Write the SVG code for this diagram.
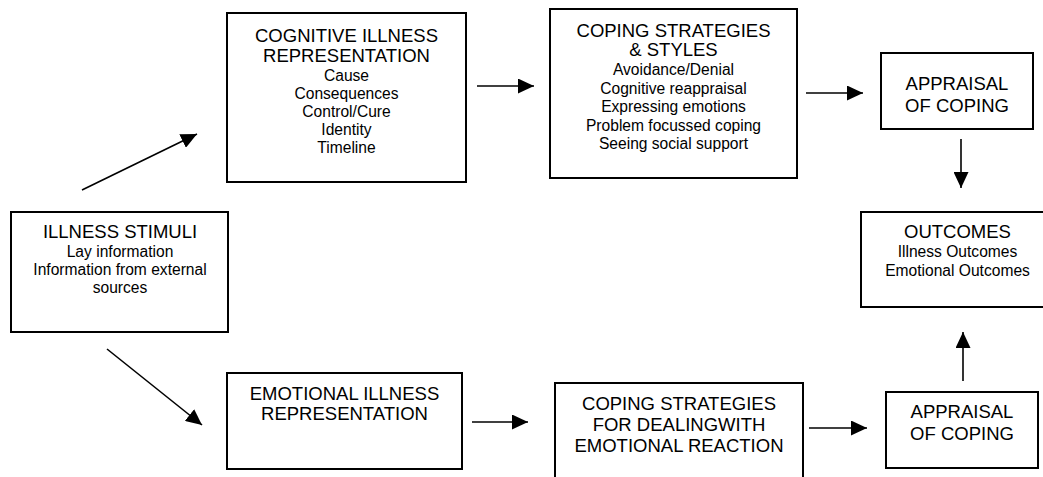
<svg xmlns="http://www.w3.org/2000/svg" width="1043" height="477" viewBox="0 0 1043 477">
<style>
.box{fill:#fff;stroke:#000;stroke-width:2}
.t{font-family:"Liberation Sans",Arial,sans-serif;font-size:18.5px;fill:#000;text-anchor:middle}
.s{font-family:"Liberation Sans",Arial,sans-serif;font-size:15.6px;fill:#000;text-anchor:middle}
.c{stroke:#000;stroke-width:1.6;fill:none;marker-end:url(#ah)}
</style>
<defs>
<marker id="ah" markerUnits="userSpaceOnUse" markerWidth="16" markerHeight="15" refX="16" refY="7.5" orient="auto">
<path d="M0,0 L16,7.5 L0,15 z" fill="#000"/>
</marker>
</defs>
<rect width="1043" height="477" fill="#fff"/>
<g id="connectors">
<line class="c" x1="82" y1="190" x2="197" y2="134"/>
<line class="c" x1="477" y1="86" x2="534" y2="86"/>
<line class="c" x1="806" y1="93" x2="863" y2="93"/>
<line class="c" x1="961" y1="139" x2="961" y2="188"/>
<line class="c" x1="107" y1="349" x2="202" y2="425"/>
<line class="c" x1="472" y1="422" x2="528" y2="422"/>
<line class="c" x1="809" y1="428" x2="867" y2="428"/>
<line class="c" x1="963" y1="381" x2="963" y2="332"/>
</g>
<g id="illness-stimuli">
<rect class="box" x="11" y="212" width="217" height="120"/>
<text class="t" x="120" y="238">ILLNESS STIMULI</text>
<text class="s" x="120" y="257">Lay information</text>
<text class="s" x="120" y="275">Information from external</text>
<text class="s" x="120" y="293">sources</text>
</g>
<g id="cognitive">
<rect class="box" x="227" y="13" width="239" height="169"/>
<text class="t" x="346.5" y="41.5">COGNITIVE ILLNESS</text>
<text class="t" x="346.5" y="61.5">REPRESENTATION</text>
<text class="s" x="346.5" y="80.5">Cause</text>
<text class="s" x="346.5" y="99">Consequences</text>
<text class="s" x="346.5" y="117">Control/Cure</text>
<text class="s" x="346.5" y="135">Identity</text>
<text class="s" x="346.5" y="153">Timeline</text>
</g>
<g id="coping-styles">
<rect class="box" x="550" y="9" width="247" height="169"/>
<text class="t" x="673.5" y="37">COPING STRATEGIES</text>
<text class="t" x="673.5" y="56">&amp; STYLES</text>
<text class="s" x="673.5" y="75">Avoidance/Denial</text>
<text class="s" x="673.5" y="93.5">Cognitive reappraisal</text>
<text class="s" x="673.5" y="112">Expressing emotions</text>
<text class="s" x="673.5" y="130.5">Problem focussed coping</text>
<text class="s" x="673.5" y="149">Seeing social support</text>
</g>
<g id="appraisal-top">
<rect class="box" x="881" y="53" width="152" height="76"/>
<text class="t" x="957" y="90">APPRAISAL</text>
<text class="t" x="957" y="112">OF COPING</text>
</g>
<g id="outcomes">
<rect class="box" x="861" y="212" width="200" height="95"/>
<text class="t" x="957.5" y="238">OUTCOMES</text>
<text class="s" x="957.5" y="257">Illness Outcomes</text>
<text class="s" x="957.5" y="276">Emotional Outcomes</text>
</g>
<g id="emotional">
<rect class="box" x="227" y="373" width="235" height="96"/>
<text class="t" x="344.5" y="400">EMOTIONAL ILLNESS</text>
<text class="t" x="344.5" y="420">REPRESENTATION</text>
</g>
<g id="coping-emotional">
<rect class="box" x="555" y="383" width="248" height="110"/>
<text class="t" x="679" y="410">COPING STRATEGIES</text>
<text class="t" x="679" y="431">FOR DEALINGWITH</text>
<text class="t" x="679" y="452">EMOTIONAL REACTION</text>
</g>
<g id="appraisal-bottom">
<rect class="box" x="886" y="392" width="152" height="76"/>
<text class="t" x="962" y="418">APPRAISAL</text>
<text class="t" x="962" y="440">OF COPING</text>
</g>
</svg>
